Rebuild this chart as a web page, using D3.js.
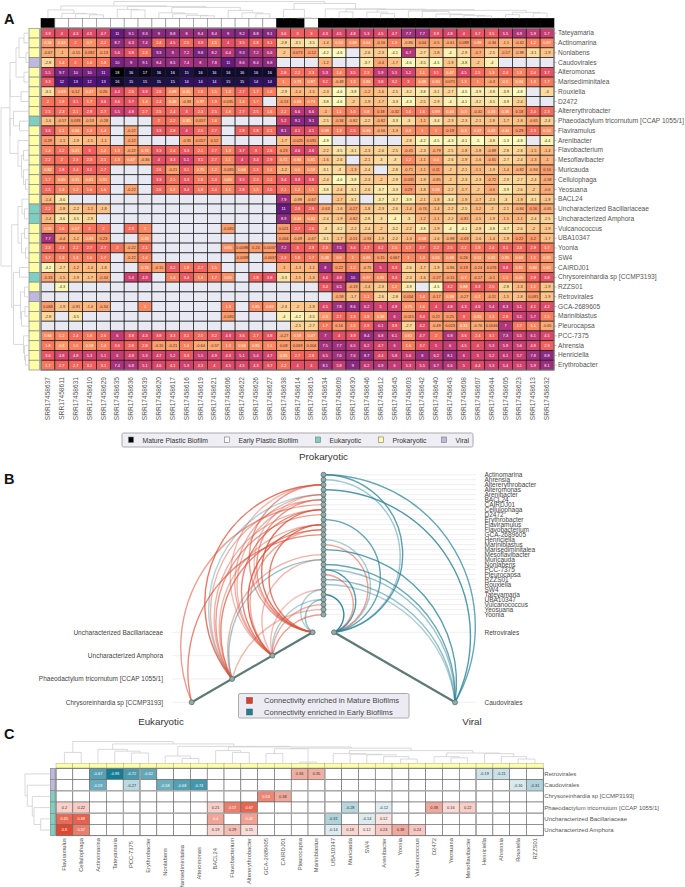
<!DOCTYPE html>
<html>
<head>
<meta charset="utf-8">
<script src="https://cdn.jsdelivr.net/npm/d3@7"></script>
<style>
  html, body { margin: 0; padding: 0; background: #fff; }
  text { font-family: "Liberation Sans", Arial, sans-serif; }
</style>
</head>
<body>
<div id="chart"></div>
<script>
var _ = null;

// panel A
var rowNames = ['Tateyamaria','Actinomarina','Nonlabens','Caudovirales','Alteromonas','Marisediminitalea','Rouxiella','D2472','Altererythrobacter','Phaeodactylum tricornutum [CCAP 1055/1]','Flaviramulus','Arenibacter','Flavobacterium','Mesoflavibacter','Muricauda','Cellulophaga','Yeosuana','BACL24','Uncharacterized Bacillariaceae','Uncharacterized Amphora','Vulcanococcus','UBA10347','Yoonia','SW4','CAIRDJ01','Chrysoreinhardia sp [CCMP3193]','RZZS01','Retrovirales','GCA-2689605','Mariniblastus','Pleurocapsa','PCC-7375','Ahrensia','Henriciella','Erythrobacter'];
var rowTypes = ['P','P','P','V','P','P','P','P','P','E','P','P','P','P','P','P','P','P','E','E','P','P','P','P','P','E','P','V','P','P','P','P','P','P','P'];
var colNames = ['SRR17458637','SRR17458611','SRR17458631','SRR17458610','SRR17458629','SRR17458635','SRR17458636','SRR17458639','SRR17458620','SRR17458617','SRR17458616','SRR17458619','SRR17458621','SRR17458606','SRR17458622','SRR17458626','SRR17458627','SRR17458638','SRR17458614','SRR17458615','SRR17458634','SRR17458609','SRR17458630','SRR17458646','SRR17458612','SRR17458645','SRR17458603','SRR17458642','SRR17458640','SRR17458643','SRR17458608','SRR17458607','SRR17458644','SRR17458605','SRR17458623','SRR17458613','SRR17458632'];
var colTypes = ['M','W','W','W','W','W','W','W','W','W','W','W','W','W','W','W','W','M','M','W','M','M','M','M','M','M','M','M','M','M','M','M','M','M','M','M','M'];
var heatValues = [
  [3.9,4,4.3,4.5,4.7,11,9.1,9.3,9,8.8,8,8.4,8.4,9,9.2,8.8,9.1,3.6,3,3,4.3,4.5,4.8,5.3,4.5,4.7,7.7,7.7,3.9,4.8,4,3.7,3.5,5.5,6.9,5.9,5.7],
  [0.34,0.43,2,0.7,2.2,8.7,6.3,7.4,2.4,4.5,2.5,3.9,1.5,4,3.5,2.8,3.1,-2.8,-3.1,-3.5,-1.4,0.34,0.69,0.64,-0.16,1.3,-0.86,0.04,-0.5,-0.61,0.089,0.99,-0.34,-1.1,-0.42,1.2,0.87],
  [-0.67,-1,-0.55,0.092,-0.13,5.6,3.8,2.3,9.3,8,7.2,9.8,8.2,6.4,9.3,7.2,6.6,-2,0.073,-0.12,-4.2,-4.6,_,-2.6,-2.3,-4.1,6.7,-2.7,-1.8,-4,-2.9,-0.7,-2.5,-0.57,-0.99,-3.1,-1.9],
  [-2.8,1.4,2,1.6,1.8,10,9,9.1,8.4,8.5,7.4,8,7.8,11,8.6,8.4,8.8,_,_,_,-1.2,_,_,-3.7,-0.4,-1.7,-4.6,-3.5,-4.5,-1.9,-3.8,-2,-4,_,_,_,_],
  [5.5,9.7,10,10,11,18,16,17,16,16,15,16,16,16,16,16,16,2.8,2.2,2.3,5.3,1.4,3.5,2.3,5.9,5.5,5.2,1.1,3.1,0.47,4.5,2.5,1.3,2.4,1.3,2.4,3.7],
  [3.3,12,13,12,13,16,15,15,15,15,14,14,14,15,15,14,14,1,0.73,0.87,3.2,-0.49,1.3,0.86,3.8,3.2,3,0.48,0.94,0.071,1.3,1,-0.3,0.5,0.34,1.3,1.7],
  [-3.1,0.59,0.12,0.47,0.26,4.4,2.6,3.9,2.6,0.89,0.35,1.8,1.5,1.3,2.7,1.7,1.6,-2.9,-1.4,-1.5,-2.3,-4.6,-3.8,-1.2,-1.6,-2.5,-3.2,-3.8,-3.1,-2.7,-4.5,-3.9,-3.8,-3.9,-4.8,_,-3],
  [2,1.9,3.1,1.7,3.6,3.6,3.7,1.4,2.4,0.48,-0.33,0.97,1.9,0.035,1.4,1.7,_,-0.13,0.63,0.73,-3.8,-4.6,-2,-1.9,-1.7,-3.3,-4.3,-2.5,-2.9,-4,-4.1,-3.2,-3.5,-3.9,-2.4,_,_],
  [2.5,2.3,2.1,2.9,2.7,5.5,4.8,2.7,2.5,2.4,3,2.3,2.5,1.8,2.7,2.5,1.6,2.2,6.6,6.6,-1,1.1,1.6,0.8,0.18,-0.32,1.6,1.6,0.89,0.44,0.3,-0.42,0.33,0.38,0.18,2.4,2.3],
  [-1.6,-0.57,0.093,-0.53,-0.28,_,_,_,2,2.2,0.35,0.057,1.6,_,_,_,_,5.2,9.1,9.1,-2.5,-0.34,-0.82,-2.2,-0.82,-3.3,-3,-1.1,-3.4,-2.3,-2.3,-2.1,-1.8,-1.7,-1.8,-0.65,-2.4],
  [3.6,1.1,0.66,1.3,1.4,_,-0.22,_,3.3,2.8,4,2.5,2.7,_,2.8,2.8,2.1,8.1,4.1,4.1,0.99,1.3,2.5,0.36,-0.56,-1.3,0.8,1,1,0.19,0.3,0.47,0.43,0.44,0.29,2.3,0.44],
  [0.29,-1.1,-1.9,-1.5,-1.1,_,-0.22,_,_,_,-0.35,0.057,0.12,_,_,_,_,-1.7,-0.025,0.091,-4.9,_,_,_,_,_,-2.8,-4.2,-4.5,-4.3,-4.1,-5,-3.8,-5.3,-4.8,_,-4.4],
  [1.4,2.2,0.41,3,1.2,1.3,-0.22,0.74,3.3,2.4,3.3,2.1,2.7,1.3,3.7,3,2.6,0.23,4.6,4.6,-2.2,-3.5,-3.1,-2.3,-2.6,-2.5,-0.45,-2.3,-0.79,-2.5,-1.8,-1.8,-0.89,-2.8,-2.8,-1.5,-1.4],
  [2.2,2,2.3,2.3,2.1,1.3,0.47,-0.36,4,3.3,5.1,3.1,2.7,1.1,4,3.4,2.9,0.72,0.84,0.81,-1.6,-2.6,_,-2.1,-3,-3,1.2,-1.1,0.4,-2.6,-1.9,-1.6,-0.65,-2.7,-2.4,-1.3,-1],
  [0.82,2.8,2.4,3.1,2.7,_,_,_,2.6,-0.21,3.1,0.75,1.2,-0.035,0.66,2.3,1.1,-1.2,0.6,0.59,-3.1,-3,-1.3,-2.4,_,-2.8,-0.71,-1.1,0.11,-2,-2.1,-1.1,-1.9,-1.4,-0.82,-0.94,0.16],
  [1.7,0.65,0.31,0.61,0.91,_,_,_,3.3,2.1,3.3,1.8,2.4,0.65,3.5,2.3,2.1,3.4,3.9,3.8,-2.4,-4.6,-3.8,-2.3,-2,-2.9,-0.035,-1.9,-0.85,-2,-2.3,-2.3,-0.72,-2.9,-2.7,-2.4,-0.58],
  [2.5,1.3,1.2,1.6,1.6,_,-0.22,_,2.6,1.2,3.4,1.8,2.4,1.1,2.8,1.5,2.5,2.1,1.2,1.1,-3.8,-2.4,-3.1,-2.6,-3.7,-3.3,0.29,-1.8,0.36,-2.2,-1.7,-2,-0.6,-3.9,-2.6,-2,-0.6],
  [-1.4,-3.6,_,_,_,_,_,_,_,_,_,_,_,_,_,_,_,7.9,-0.99,-0.67,_,-1.7,-3.1,_,-3.7,-3.7,-3.9,-2.1,-1.8,-3.4,-1.9,-1.7,-2.3,-3,-1.9,-3.1,-1.9],
  [2.2,-1.8,-2.2,-1.1,-1.8,_,_,_,_,_,_,_,_,_,_,_,_,11,2.8,2.8,-0.63,-1.6,-0.27,-1.8,-2.3,-2.6,-1.4,-0.74,-1.4,-2.2,-2.5,-1.2,-2,-2.1,-0.84,0.16,-0.65],
  [-1.4,-3.6,-3.5,-2.9,_,_,_,_,_,_,_,_,_,_,_,_,_,8.9,0.44,0.44,-2.4,-1.9,-0.82,-2.8,-3,-4,-3,-1.2,-1.1,-2.2,-0.81,-1.5,-1.9,-1.5,-1.1,-2.4,-2.5],
  [0.56,1.6,0.67,2,2,_,2.3,1,_,_,_,_,_,-0.035,_,_,_,0.021,2.7,2.6,-3,-3.2,-2.2,-2.4,-2,-3.2,-2.2,-3.8,-1.9,-4,-4.1,-2.8,-3.8,-3.7,-2.6,-2,-1.9],
  [7.7,-0.4,-1.2,0.33,0.23,_,_,0.33,_,_,_,_,_,_,_,_,_,0.064,-0.49,-0.67,-3.1,-1.7,-0.51,-0.93,-1.9,-2.2,-1.3,0.58,-1.6,-0.98,-0.69,-1.6,-1.4,-1.9,0.22,0.2,-1.7],
  [2.3,2.3,2.2,2.7,2.7,2,-0.22,2.1,_,_,_,_,_,0.65,0.0098,0.24,0.0037,7.2,3,2.9,2.3,7.5,3.4,2.7,3.2,1.5,1.7,2.7,2.2,2.5,2.2,1.9,2.4,3.1,2.4,2.9,1.7],
  [1.7,1.3,1.3,1.6,1.7,_,-0.22,1.4,_,_,_,_,_,_,-0.0098,_,-0.0037,2.3,1.8,1.7,0.48,0.9,1,0.86,0.15,0.067,1,1.3,0.65,0.48,0.26,0.51,0.31,0.95,0.63,1.5,0.35],
  [-4.2,-2.7,-1.2,-1.4,-1.8,_,_,0.74,-0.15,3.2,1.9,2.7,1.5,_,_,_,_,-1,-1.3,-1.1,8,0.22,1.2,-0.75,5,3.3,-2.6,-1.7,-1.9,-0.86,0.19,-0.24,0.076,3.8,0.81,0.84,0.62],
  [-0.33,-1.5,-1.9,-1.7,-0.34,_,5.4,4.9,_,1.4,3.4,1.4,1.7,0.65,_,2.8,3.8,-3.3,-1.5,-1.3,4.4,4.9,10,0.97,0.81,3.3,-2.3,-1.6,-0.27,-0.15,0.7,-0.17,-0.1,1.1,0.45,2.9,3.8],
  [_,-4.3,_,_,_,_,_,_,_,_,_,_,_,_,_,_,_,_,_,_,3.4,6.5,-0.19,-1.4,-2.3,1.2,-3.9,_,-4.5,3.2,0.88,3.3,2.5,-2.8,-1.3,1.1,-1.9],
  [_,_,_,_,_,_,_,_,_,_,_,_,_,_,_,_,_,_,_,_,_,-0.59,-1.7,1.1,-2.6,-2.8,0.054,1.4,-0.17,0.38,-0.27,0.7,-0.11,-1.5,-1.8,0.091,-1.9],
  [0.063,-1.9,-0.91,-1.4,-0.34,_,_,1,_,_,_,_,_,1.3,_,0.85,0.69,-2.3,-2,-1.9,4.5,7.8,8.6,6.2,5,4.9,0.75,1.6,4,4.8,4.3,4.6,5.4,6.3,5.1,4.1,4.2],
  [-2.8,_,-3.5,_,_,_,_,_,_,_,_,_,_,-0.035,_,_,_,-4,-4.2,-3.5,0.3,2.7,2.3,1.8,0.39,6,-0.015,3.4,0.21,0.25,3,0.55,1.3,2.9,5.5,5.7,1.5],
  [_,_,_,_,_,_,_,_,_,_,_,_,_,_,_,_,_,_,-2.5,-2.7,1.7,0.16,1.5,2.9,6.1,3.9,-2.7,4.2,-0.49,0.023,0.31,-0.76,0.0046,7,1.7,1.1,-0.65],
  [0.84,1.2,2.4,1.8,2.6,6,3.8,4.3,3.8,3.3,3.1,2.5,3.2,4.3,3.6,2.7,3.8,-0.27,0.59,0.47,7,4,3.9,8.4,6.8,6.1,0.83,4.7,2,6.8,3.6,2.4,3.1,7.3,5.5,6.1,4.5],
  [1.8,0.3,1.5,0.58,1.4,3.6,2.8,2.8,-0.15,-0.21,1.4,-0.64,-0.57,1.3,0.66,0.85,1.1,0.08,0.069,0.004,7.5,7.7,6.5,6.2,4.7,6,1.6,3.7,5,6,4.5,4,5.3,5.9,5.6,4.8,2.9],
  [3.6,4.8,4.8,5.3,5.1,6,4.8,5.3,4.7,5.2,3.3,5.5,4.9,4.3,5.1,5.4,4.7,0.35,2.7,2.8,6.5,7.6,7.6,8.7,4.4,5.8,5.6,8,6.2,8.1,6,5,5.2,6.1,5.7,7.8,8.8],
  [1.7,2.7,2.7,3.1,3.1,7.4,6.8,5.1,4.6,4.1,5.3,4.3,4,4.5,4.5,4.3,3.7,2.2,4,4,8.1,5.8,9,6.2,6.9,6,5.3,5.5,6.7,6.6,5,4.4,5.3,5.4,5.1,5.9,8.1]
];

// trees are [height, left, right], a number is a leaf index
var colTree = [17,
  [12.5,
    [8.5, 0, [5, 1, [4.5, 2, [3.5, 3, 4]]]],
    [12, [9, 5, [8.5, 6, 7]],
      [11, [5.5, 8, [4.5, 9, [3, 10, [2.5, 11, 12]]]],
           [8, 13, [5.5, 14, [4.5, 15, 16]]]]]],
  [15,
    [9, 17, [0.5, 18, 19]],
    [9.5, 20,
      [9.2, [6.5, 21, 22],
        [8.8, [6.3, 23, [4.7, 24, 25]],
          [8, [7.5, 26, [7, 27, [4.3, 28, [3.7, 29, [3, 30, [2.3, 31, 32]]]]]],
              [6, [3.7, 33, 34], [5.3, 35, 36]]]]]]]];
var rowTree = [27.5,
  [18.5,
    [18.5, [12.5, [9.5, [4.5, 0, 1], [2.5, 2, 3]], [4.5, 4, 5]], [7.5, 6, 7]],
    [18.5, [15, 8, [9, 9, 10]], [10.5, 11, [7, [5, 12, 13], [5, 14, [3, 15, 16]]]]]],
  [16.8,
    [10.5, [6.5, 17, [4, 18, 19]], [7, [4, 20, 21], [3, 22, 23]]],
    [15, [9, 24, 25], [8, [4, 26, 27], [7, [3.5, 28, 29], 30]], [5, 31, [4, 32, [3, 33, 34]]]]]];

// panel B and C
var prokNames = ['Actinomarina','Ahrensia','Altererythrobacter','Alteromonas','Arenibacter','BACL24','CAIRDJ01','Cellulophaga','D2472','Erythrobacter','Flaviramulus','Flavobacterium','GCA-2689605','Henriciella','Mariniblastus','Marisediminitalea','Mesoflavibacter','Muricauda','Nonlabens','PCC-7375','Pleurocapsa','RZZS01','Rouxiella','SW4','Tateyamaria','UBA10347','Vulcanococcus','Yeosuana','Yoonia'];
var eukNames = ['Uncharacterized Bacillariaceae','Uncharacterized Amphora','Phaeodactylum tricornutum [CCAP 1055/1]','Chrysoreinhardia sp [CCMP3193]'];
var virNames = ['Retrovirales','Caudovirales'];

var corrRows = ['Retrovirales','Caudovirales','Chrysoreinhardia sp [CCMP3193]','Phaeodactylum tricornutum [CCAP 1055/1]','Uncharacterized Bacillariaceae','Uncharacterized Amphora'];
var corrCols = ['Flaviramulus','Cellulophaga','Actinomarina','Tateyamaria','PCC-7375','Erythrobacter','Nonlabens','Marisediminitalea','Alteromonas','BACL24','Flavobacterium','Altererythrobacter','GCA-2689605','CAIRDJ01','Pleurocapsa','Mariniblastus','UBA10347','Muricauda','SW4','Arenibacter','Yoonia','Vulcanococcus','D2472','Yeosuana','Mesoflavibacter','Henriciella','Ahrensia','Rouxiella','RZZS01'];
var corrValues = [
  [_,_,-0.67,-0.93,-0.72,-0.62,_,_,_,_,_,_,_,_,0.36,0.35,_,_,_,_,_,_,_,_,_,-0.19,-0.21,_,_],
  [_,_,-0.59,_,-0.27,_,-0.58,-0.68,-0.74,_,_,_,_,_,_,_,_,_,_,_,_,_,_,_,_,_,_,-0.16,-0.31],
  [_,_,_,_,_,_,_,_,_,_,_,_,0.53,0.38,_,_,_,_,_,_,_,_,_,_,_,_,_,_,_],
  [0.2,0.22,_,_,_,_,_,_,_,0.21,0.57,0.67,_,_,_,_,_,-0.28,_,-0.12,_,_,0.38,0.16,0.22,_,_,_,_],
  [0.65,0.69,_,_,_,_,_,_,_,0.4,_,0.41,_,_,_,_,-0.31,_,-0.14,0.12,_,_,_,_,_,_,_,_,_],
  [0.8,0.57,_,_,_,_,_,_,_,0.19,0.29,0.15,_,_,_,_,-0.14,0.18,0.12,0.24,0.38,0.24,_,_,_,_,_,_,_]
];
var corrColTree = [18,
  [9, 0, 1],
  [16, [11.5, 2, [10, 3, [8.5, 4, 5]]],
    [14, [6, 6, [4, 7, 8]],
      [13.5, [10.5, 9, [9, 10, 11]],
        [12.5, [12, [8, 12, 13], [1, 14, 15]],
          [10.5, [8, 16, [7.5, 17, [7, 18, [5.5, 19, [3.5, 20, 21]]]]],
            [8.5, [5.5, 22, [4.5, 23, 24]], [8, 25, [5.5, 26, [3.5, 27, 28]]]]]]]]]];
var corrRowTree = [25, 0, [22.7, 1, [17.7, 2, [16, 3, [9.3, 4, 5]]]]];
var corrGapCols = [5, 16, 25];
var corrGapRows = [2, 4];
var corrLabelNudge = { 'Nonlabens': 10, 'Marisediminitalea': 7, 'Alteromonas': 9, 'BACL24': 10, 'PCC-7375': 3, 'SW4': 3 };

var typeColors = { M: '#000', W: '#fff', E: '#7fcfc0', P: '#ffffa6', V: '#bdb8dc' };
var legendA = [
  ['Mature Plastic Biofilm', 'M'],
  ['Early Plastic Biofilm', 'W'],
  ['Eukaryotic', 'E'],
  ['Prokaryotic', 'P'],
  ['Viral', 'V']
];
var legendB = ['Connectivity enriched in Mature Biofilms', 'Connectivity enriched in Early Biofilms'];

var red = '#d9503a';
var teal = '#2b8296';
var labelColor = '#555';

var svg = d3.select('#chart').append('svg')
  .attr('width', 685)
  .attr('height', 887)
  .style('display', 'block');

function drawTree(g, tree, leafPos, heightPos, vertical) {
  function walk(n) {
    if (typeof n === 'number') return { p: leafPos(n), h: heightPos(0) };
    var kids = n.slice(1).map(walk);
    var h = heightPos(n[0]);
    var a = kids[0], b = kids[kids.length - 1];
    var d = vertical
      ? 'M' + a.p + ',' + a.h + 'V' + h + 'H' + b.p + 'V' + b.h
      : 'M' + a.h + ',' + a.p + 'H' + h + 'V' + b.p + 'H' + b.h;
    kids.slice(1, -1).forEach(function(k) {
      d += vertical ? 'M' + k.p + ',' + k.h + 'V' + h : 'M' + k.h + ',' + k.p + 'H' + h;
    });
    g.append('path').attr('d', d).attr('fill', 'none').attr('stroke', '#cfcfcf').attr('stroke-width', 0.8);
    return { p: d3.mean(kids, function(k) { return k.p; }), h: h };
  }
  walk(tree);
}

function panelLetter(t, y) {
  svg.append('text').attr('x', 4).attr('y', y).text(t)
    .attr('font-size', 14.5).attr('font-weight', 'bold').attr('fill', '#111');
}

// ---- A
var xA = d3.scaleBand().domain(colNames).range([41, 554]);
var yA = d3.scaleBand().domain(rowNames).range([28.3, 370]);
var colorA = d3.scaleSequential(d3.interpolateMagma).domain([18, -4.7]);

var cellsA = [];
heatValues.forEach(function(row, i) {
  row.forEach(function(v, j) { cellsA.push({ r: rowNames[i], c: colNames[j], v: v }); });
});

var gA = svg.append('g');
gA.selectAll('rect.cell').data(cellsA).join('rect')
  .attr('class', 'cell')
  .attr('x', function(d) { return xA(d.c); })
  .attr('y', function(d) { return yA(d.r); })
  .attr('width', xA.bandwidth())
  .attr('height', yA.bandwidth())
  .attr('fill', function(d) { return d.v === null ? '#e9e9f3' : colorA(d.v); })
  .attr('stroke', '#1a1a1a')
  .attr('stroke-width', 0.7);
gA.selectAll('text.val').data(cellsA.filter(function(d) { return d.v !== null; })).join('text')
  .attr('class', 'val')
  .attr('x', function(d) { return xA(d.c) + xA.bandwidth() / 2; })
  .attr('y', function(d) { return yA(d.r) + yA.bandwidth() / 2 + 1.4; })
  .attr('text-anchor', 'middle')
  .attr('font-size', 3.9)
  .attr('fill', function(d) { return d.v >= 0.3 ? '#fff' : '#333'; })
  .text(function(d) { return String(d.v); });
gA.append('rect')
  .attr('x', 41).attr('y', 28.3).attr('width', 513).attr('height', 341.7)
  .attr('fill', 'none').attr('stroke', '#888').attr('stroke-width', 1);

gA.selectAll('rect.coltype').data(colNames).join('rect')
  .attr('class', 'coltype')
  .attr('x', function(d) { return xA(d); })
  .attr('y', 18.3)
  .attr('width', xA.bandwidth())
  .attr('height', 9)
  .attr('fill', function(d, i) { return typeColors[colTypes[i]]; })
  .attr('stroke', function(d, i) { return colTypes[i] === 'M' ? '#000' : '#888'; })
  .attr('stroke-width', 0.6);
gA.selectAll('rect.rowtype').data(rowNames).join('rect')
  .attr('class', 'rowtype')
  .attr('x', 29)
  .attr('y', function(d) { return yA(d); })
  .attr('width', 10.5)
  .attr('height', yA.bandwidth())
  .attr('fill', function(d, i) { return typeColors[rowTypes[i]]; })
  .attr('stroke', '#888')
  .attr('stroke-width', 0.7);

var axisRowA = gA.append('g').attr('transform', 'translate(554,0)')
  .call(d3.axisRight(yA).tickSize(2.5).tickPadding(1.5));
var axisColA = gA.append('g').attr('transform', 'translate(0,374)')
  .call(d3.axisBottom(xA).tickSize(0).tickPadding(0));
axisRowA.select('.domain').remove();
axisColA.select('.domain').remove();
axisRowA.selectAll('line').attr('stroke', '#777').attr('stroke-width', 0.5);
axisRowA.selectAll('text').attr('font-size', 6.6).attr('fill', labelColor).attr('font-family', null);
axisColA.selectAll('text')
  .attr('font-size', 6.6).attr('fill', labelColor)
  .attr('text-anchor', 'end').attr('dy', '0.32em')
  .attr('transform', 'rotate(-90) translate(-3,0)').attr('x', 0).attr('y', 0);

drawTree(gA.append('g'), colTree,
  function(i) { return xA(colNames[i]) + xA.bandwidth() / 2; },
  d3.scaleLinear().domain([0, 18]).range([18.3, 0.5]), true);
drawTree(gA.append('g'), rowTree,
  function(i) { return yA(rowNames[i]) + yA.bandwidth() / 2; },
  d3.scaleLinear().domain([0, 28]).range([28.5, 0.5]), false);

// legend A
var gLegA = svg.append('g');
gLegA.append('rect').attr('x', 122).attr('y', 433).attr('width', 351).attr('height', 14).attr('rx', 1.5)
  .attr('fill', '#eeeef4').attr('stroke', '#aaa').attr('stroke-width', 1);
legendA.forEach(function(d, i) {
  var x = [128, 224, 315, 378, 441][i];
  gLegA.append('rect').attr('x', x + 0.5).attr('y', 437).attr('width', 5).attr('height', 5.5)
    .attr('fill', typeColors[d[1]]).attr('stroke', '#777').attr('stroke-width', 0.6);
  gLegA.append('text').attr('x', x + 14.5).attr('y', 442.5).text(d[0])
    .attr('font-size', 6.8).attr('fill', '#333');
});

// ---- B
var axisX = 323.5;
var yProk = d3.scalePoint().domain(prokNames).range([474.7, 614.5]);
var tEuk = d3.scalePoint().domain(eukNames).range([0, 1]);
var tVir = d3.scalePoint().domain(virNames).range([0, 1]);
var eukX = d3.scaleLinear().domain([0, 1]).range([312.7, 191.7]);
var eukY = d3.scaleLinear().domain([0, 1]).range([632.3, 702.3]);
var virX = d3.scaleLinear().domain([0, 1]).range([334, 455]);
var virY = d3.scaleLinear().domain([0, 1]).range([632.3, 702.3]);

function nodePos(name) {
  if (eukNames.indexOf(name) >= 0) return { x: eukX(tEuk(name)), y: eukY(tEuk(name)) };
  if (virNames.indexOf(name) >= 0) return { x: virX(tVir(name)), y: virY(tVir(name)) };
  return { x: axisX, y: yProk(name) };
}

var edges = [];
corrValues.forEach(function(row, i) {
  row.forEach(function(v, j) {
    if (v !== null) edges.push({ from: corrCols[j], to: corrRows[i], v: v });
  });
});
edges.sort(function(a, b) { return Math.abs(a.v) - Math.abs(b.v); });

function arcPath(d) {
  var p = nodePos(d.from), q = nodePos(d.to);
  var dx = q.x - p.x, dy = q.y - p.y;
  var r = (dx * dx + dy * dy) / (2 * Math.abs(dy));
  return 'M' + p.x + ',' + p.y + 'A' + r + ',' + r + ' 0 0 ' + (dx > 0 ? 1 : 0) + ' ' + q.x + ',' + q.y;
}

var gB = svg.append('g');
var faint = gB.append('g').attr('stroke', '#ececec').attr('stroke-width', 0.8);
faint.selectAll('line.p').data(prokNames).join('line').attr('class', 'p')
  .attr('x1', axisX).attr('x2', 476)
  .attr('y1', function(d) { return yProk(d); }).attr('y2', function(d) { return yProk(d); });
faint.selectAll('line.e').data(eukNames).join('line').attr('class', 'e')
  .attr('x1', 172).attr('x2', function(d) { return nodePos(d).x; })
  .attr('y1', function(d) { return nodePos(d).y; }).attr('y2', function(d) { return nodePos(d).y; });
faint.selectAll('line.v').data(virNames).join('line').attr('class', 'v')
  .attr('x1', function(d) { return nodePos(d).x; }).attr('x2', 476)
  .attr('y1', function(d) { return nodePos(d).y; }).attr('y2', function(d) { return nodePos(d).y; });

gB.append('g').attr('fill', 'none').selectAll('path').data(edges).join('path')
  .attr('d', arcPath)
  .attr('stroke', function(d) { return d.v > 0 ? red : teal; })
  .attr('stroke-width', 1.4)
  .attr('stroke-opacity', function(d) { return 0.28 + 0.72 * Math.abs(d.v); });

// the three hive axes
[[axisX, yProk.range()[0], axisX, yProk.range()[1]],
 [eukX(0), eukY(0), eukX(1), eukY(1)],
 [virX(0), virY(0), virX(1), virY(1)]].forEach(function(a) {
  gB.append('line').attr('x1', a[0]).attr('y1', a[1]).attr('x2', a[2]).attr('y2', a[3])
    .attr('stroke', '#5e7a76').attr('stroke-width', 2.2);
});

gB.selectAll('circle').data(prokNames.concat(eukNames, virNames)).join('circle')
  .attr('cx', function(d) { return nodePos(d).x; })
  .attr('cy', function(d) { return nodePos(d).y; })
  .attr('r', 2.5)
  .attr('fill', '#9aa8a6')
  .attr('stroke', '#3f6b6b')
  .attr('stroke-width', 0.7);

gB.selectAll('text.lab').data(prokNames.concat(virNames)).join('text').attr('class', 'lab')
  .attr('x', 484.5)
  .attr('y', function(d) { return nodePos(d).y + 2.3; })
  .attr('font-size', 6.5).attr('fill', '#444')
  .text(function(d) { return d; });
gB.selectAll('text.labe').data(eukNames).join('text').attr('class', 'labe')
  .attr('x', 163)
  .attr('y', function(d) { return nodePos(d).y + 2.3; })
  .attr('text-anchor', 'end')
  .attr('font-size', 6.5).attr('fill', '#444')
  .text(function(d) { return d; });

[['Prokaryotic', axisX, 460], ['Eukaryotic', 161, 725], ['Viral', 472, 725]].forEach(function(t) {
  gB.append('text').attr('x', t[1]).attr('y', t[2]).text(t[0])
    .attr('text-anchor', 'middle').attr('font-size', 9.8).attr('fill', '#333');
});

var gLegB = svg.append('g');
gLegB.append('rect').attr('x', 238.5).attr('y', 693.5).attr('width', 170.5).attr('height', 24.5).attr('rx', 1.5)
  .attr('fill', '#ecebf3').attr('stroke', '#999').attr('stroke-width', 0.8);
legendB.forEach(function(t, i) {
  var y = 697.5 + i * 11.5;
  gLegB.append('rect').attr('x', 246.5).attr('y', y).attr('width', 6).attr('height', 6)
    .attr('fill', i === 0 ? '#e03d22' : '#1f7f96').attr('stroke', '#555').attr('stroke-width', 0.5);
  gLegB.append('text').attr('x', 264).attr('y', y + 5.5).text(t)
    .attr('font-size', 7.6).attr('fill', '#444');
});

// ---- C
var xC = d3.scaleBand().domain(corrCols).range([56, 543.3]);
var yC = d3.scaleBand().domain(corrRows).range([768.3, 835.7]);
var colorC = d3.scaleLinear().domain([-0.95, 0, 0.85]).range(['#0f7a94', '#ffffff', '#e03d22']);

var cellsC = [];
corrValues.forEach(function(row, i) {
  row.forEach(function(v, j) { cellsC.push({ r: corrRows[i], c: corrCols[j], v: v }); });
});
var gC = svg.append('g');
gC.selectAll('rect.cell').data(cellsC).join('rect')
  .attr('class', 'cell')
  .attr('x', function(d) { return xC(d.c); })
  .attr('y', function(d) { return yC(d.r); })
  .attr('width', xC.bandwidth())
  .attr('height', yC.bandwidth())
  .attr('fill', function(d) { return d.v === null ? '#fff' : colorC(d.v); })
  .attr('stroke', '#666')
  .attr('stroke-width', 0.6);
gC.selectAll('text.val').data(cellsC.filter(function(d) { return d.v !== null; })).join('text')
  .attr('class', 'val')
  .attr('x', function(d) { return xC(d.c) + xC.bandwidth() / 2; })
  .attr('y', function(d) { return yC(d.r) + yC.bandwidth() / 2 + 1.4; })
  .attr('text-anchor', 'middle')
  .attr('font-size', 3.9)
  .attr('fill', function(d) { return Math.abs(d.v) >= 0.39 ? '#fff' : '#333'; })
  .text(function(d) { return String(d.v); });

corrGapCols.forEach(function(i) {
  gC.append('line').attr('x1', xC(corrCols[i])).attr('x2', xC(corrCols[i]))
    .attr('y1', yC.range()[0]).attr('y2', yC.range()[1])
    .attr('stroke', '#aaa').attr('stroke-width', 1.4);
});
corrGapRows.forEach(function(i) {
  gC.append('line').attr('y1', yC(corrRows[i])).attr('y2', yC(corrRows[i]))
    .attr('x1', xC.range()[0]).attr('x2', xC.range()[1])
    .attr('stroke', '#aaa').attr('stroke-width', 1.4);
});
gC.append('rect').attr('x', 56).attr('y', 768.3).attr('width', 487.3).attr('height', 67.4)
  .attr('fill', 'none').attr('stroke', '#777').attr('stroke-width', 0.8);

gC.selectAll('rect.coltype').data(corrCols).join('rect')
  .attr('class', 'coltype')
  .attr('x', function(d) { return xC(d); })
  .attr('y', 763.3)
  .attr('width', xC.bandwidth())
  .attr('height', 4.6)
  .attr('fill', typeColors.P)
  .attr('stroke', '#999')
  .attr('stroke-width', 0.4);
gC.selectAll('rect.rowtype').data(corrRows).join('rect')
  .attr('class', 'rowtype')
  .attr('x', 50.3)
  .attr('y', function(d) { return yC(d); })
  .attr('width', 4.8)
  .attr('height', yC.bandwidth())
  .attr('fill', function(d, i) { return i < 2 ? typeColors.V : typeColors.E; })
  .attr('stroke', '#777')
  .attr('stroke-width', 0.5);

var axisRowC = gC.append('g').attr('transform', 'translate(543.3,0)')
  .call(d3.axisRight(yC).tickSize(0).tickPadding(1));
axisRowC.select('.domain').remove();
axisRowC.selectAll('text').attr('font-size', 6).attr('fill', labelColor).attr('font-family', null);
var axisColC = gC.append('g').attr('transform', 'translate(0,838)')
  .call(d3.axisBottom(xC).tickSize(0).tickPadding(0));
axisColC.select('.domain').remove();
axisColC.selectAll('text')
  .attr('font-size', 5.8).attr('fill', labelColor)
  .attr('text-anchor', 'end').attr('dy', '0.32em').attr('x', 0).attr('y', 0)
  .attr('transform', function(d) { return 'rotate(-90) translate(' + -(corrLabelNudge[d] || 0) + ',0)'; });

drawTree(gC.append('g'), corrColTree,
  function(i) { return xC(corrCols[i]) + xC.bandwidth() / 2; },
  d3.scaleLinear().domain([0, 18]).range([763.3, 741.5]), true);
drawTree(gC.append('g'), corrRowTree,
  function(i) { return yC(corrRows[i]) + yC.bandwidth() / 2; },
  d3.scaleLinear().domain([0, 25]).range([50, 25]), false);

panelLetter('A', 24);
panelLetter('B', 484);
panelLetter('C', 739);
</script>
</body>
</html>
